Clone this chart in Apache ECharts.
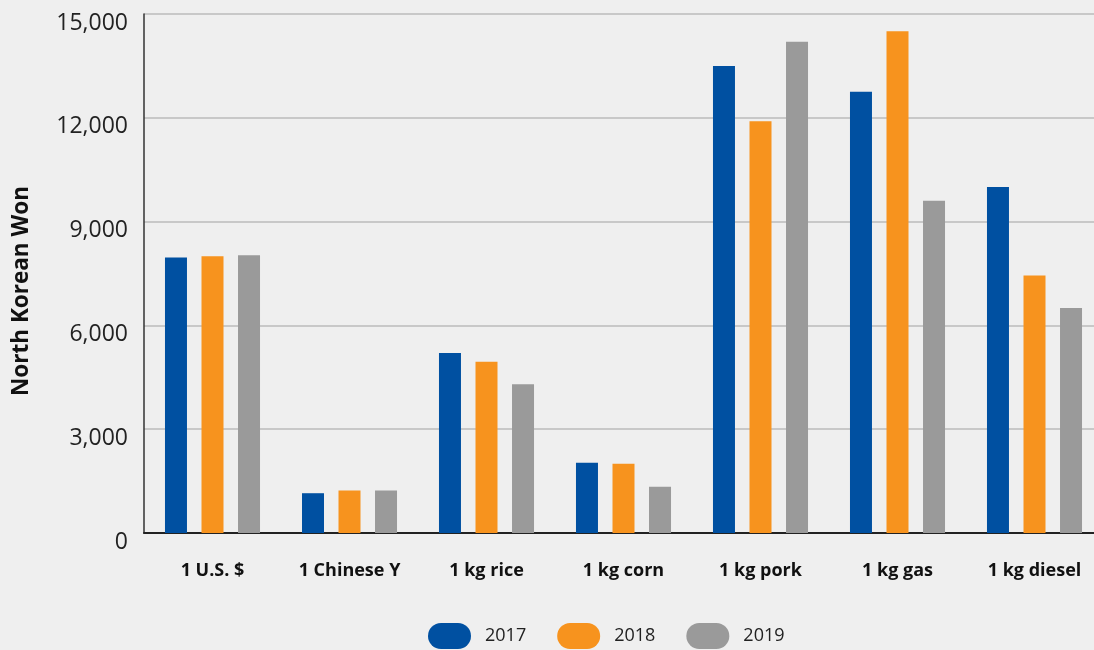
<!DOCTYPE html>
<html>
<head>
<meta charset="utf-8">
<script src="https://cdn.jsdelivr.net/npm/echarts@6/dist/echarts.min.js"></script>
<style>
html,body{margin:0;padding:0;background:#efefef;}
#chart{width:1094px;height:650px;}
</style>
</head>
<body>
<div id="chart"></div>
<script>
const categories = ['1 U.S. $', '1 Chinese Y', '1 kg rice', '1 kg corn', '1 kg pork', '1 kg gas', '1 kg diesel'];
const years = ['2017', '2018', '2019'];
const values2017 = [7960, 1150, 5200, 2030, 13500, 12750, 10000];
const values2018 = [8000, 1230, 4950, 2000, 11900, 14500, 7440];
const values2019 = [8030, 1230, 4300, 1340, 14200, 9600, 6500];
const colors = ['#0050a1', '#f7931e', '#9a9a9a'];
const yTicks = [0, 3000, 6000, 9000, 12000, 15000];

const chart = echarts.init(document.getElementById('chart'));
const capsule = 'path://M13,0 L30,0 A13,13 0 0 1 30,26 L13,26 A13,13 0 0 1 13,0 Z';
const seriesData = [values2017, values2018, values2019];

chart.setOption({
  backgroundColor: '#efefef',
  animation: false,
  grid: { left: 144, top: 14, width: 959, height: 519, outerBoundsMode: 'none', containLabel: false },
  legend: {
    left: 428, top: 623, padding: 0,
    itemWidth: 43, itemHeight: 27, itemGap: 31,
    icon: capsule,
    data: years,
    textStyle: { fontFamily: 'Open Sans', fontSize: 18, color: '#222', padding: [0, 0, 0, 9] }
  },
  graphic: [{
    type: 'text',
    x: 22, y: 291,
    rotation: Math.PI / 2,
    style: {
      text: 'North Korean Won',
      font: 'bold 22.5px "Open Sans"',
      fill: '#111',
      textAlign: 'center',
      textVerticalAlign: 'middle'
    }
  }],
  xAxis: {
    type: 'category',
    data: categories,
    axisLine: { lineStyle: { color: '#222', width: 2 } },
    axisTick: { show: false },
    axisLabel: { fontFamily: 'Open Sans', fontWeight: 'bold', fontSize: 18, color: '#111', margin: 29 }
  },
  yAxis: {
    type: 'value',
    min: yTicks[0], max: yTicks[yTicks.length - 1], interval: 3000,
    axisLine: { show: true, lineStyle: { color: '#333', width: 1.5 } },
    axisTick: { show: false },
    splitLine: { lineStyle: { color: '#bbbbbb', width: 1.5 } },
    axisLabel: {
      fontFamily: 'Open Sans', fontSize: 23, color: '#222', margin: 16,
      verticalAlign: 'top', lineHeight: 18,
      formatter: v => v.toLocaleString('en-US')
    }
  },
  series: years.map((y, i) => ({
    name: y,
    type: 'bar',
    data: seriesData[i],
    barWidth: 22,
    barGap: '66%',
    itemStyle: { color: colors[i] }
  }))
});
</script>
</body>
</html>
